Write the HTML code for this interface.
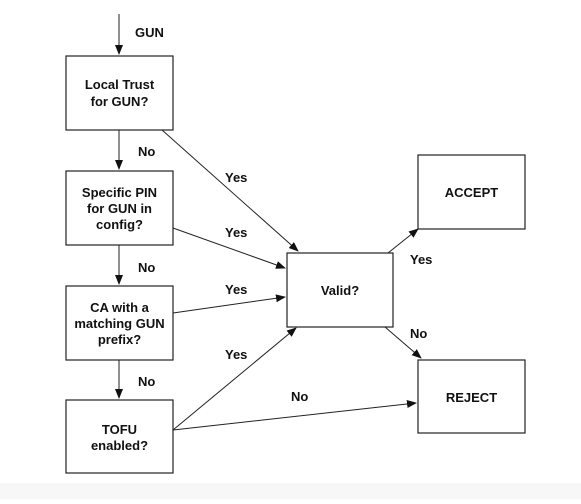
<!DOCTYPE html>
<html><head><meta charset="utf-8"><style>
body{margin:0;background:#fff}
text{font-family:"Liberation Sans",sans-serif;font-weight:bold;font-size:13px;fill:#111}
</style></head><body>
<svg width="581" height="499" viewBox="0 0 581 499" xmlns="http://www.w3.org/2000/svg">
<defs><marker id="a" markerWidth="10" markerHeight="8" refX="9" refY="4" orient="auto" markerUnits="userSpaceOnUse"><path d="M0,0 L10,4 L0,8 z" fill="#111"/></marker></defs>
<rect x="0" y="483" width="581" height="16" fill="#f7f7f7"/>
<g fill="#fff" stroke="#222" stroke-width="1.2">
<rect x="66" y="56" width="107" height="74"/>
<rect x="66" y="171" width="107" height="74"/>
<rect x="66" y="286" width="107" height="74"/>
<rect x="66" y="400" width="107" height="73"/>
<rect x="287" y="253" width="106" height="74"/>
<rect x="418" y="155" width="107" height="74"/>
<rect x="418" y="360" width="107" height="73"/>
</g>
<g stroke="#222" stroke-width="1" marker-end="url(#a)">
<line x1="119" y1="14" x2="119" y2="54"/>
<line x1="119" y1="130" x2="119" y2="169"/>
<line x1="119" y1="245" x2="119" y2="284"/>
<line x1="119" y1="360" x2="119" y2="398"/>
<line x1="162" y1="130" x2="298" y2="251"/>
<line x1="173" y1="228" x2="285" y2="268"/>
<line x1="173" y1="313" x2="285" y2="297"/>
<line x1="173" y1="430" x2="296" y2="328"/>
<line x1="173" y1="430" x2="416" y2="403"/>
<line x1="388" y1="253" x2="418" y2="229"/>
<line x1="385" y1="327" x2="421" y2="358"/>
</g>
<text x="135" y="37">GUN</text>
<text x="119.5" y="89" text-anchor="middle">Local Trust</text>
<text x="119.5" y="106" text-anchor="middle">for GUN?</text>
<text x="119.5" y="197" text-anchor="middle">Specific PIN</text>
<text x="119.5" y="213" text-anchor="middle">for GUN in</text>
<text x="119.5" y="229" text-anchor="middle">config?</text>
<text x="119.5" y="312" text-anchor="middle">CA with a</text>
<text x="119.5" y="328" text-anchor="middle">matching GUN</text>
<text x="119.5" y="344" text-anchor="middle">prefix?</text>
<text x="119.5" y="434" text-anchor="middle">TOFU</text>
<text x="119.5" y="450" text-anchor="middle">enabled?</text>
<text x="340" y="295" text-anchor="middle">Valid?</text>
<text x="471.5" y="197" text-anchor="middle">ACCEPT</text>
<text x="471.5" y="402" text-anchor="middle">REJECT</text>
<text x="138" y="156">No</text>
<text x="138" y="272">No</text>
<text x="138" y="386">No</text>
<text x="225" y="182">Yes</text>
<text x="225" y="237">Yes</text>
<text x="225" y="294">Yes</text>
<text x="225" y="359">Yes</text>
<text x="291" y="401">No</text>
<text x="410" y="264">Yes</text>
<text x="410" y="338">No</text>
</svg>
</body></html>
